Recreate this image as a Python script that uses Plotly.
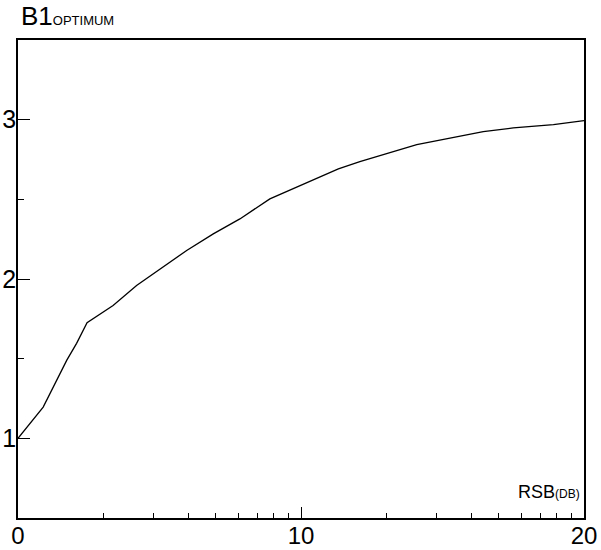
import math
import plotly.graph_objects as go

# ---- data ----
rsb_db = [0.0, 0.89, 1.72, 2.07, 2.44, 3.36, 4.19, 5.13, 5.96, 6.90, 7.84, 8.90,
          10.02, 11.32, 12.08, 14.09, 16.44, 17.50, 18.92, 20.0]
b1_optimum = [1.0, 1.196, 1.489, 1.596, 1.725, 1.834, 1.959, 2.074, 2.179, 2.283, 2.377, 2.503,
              2.592, 2.691, 2.737, 2.843, 2.925, 2.948, 2.969, 2.994]

x_major_ticks = [0, 10, 20]
x_major_labels = ["0", "10", "20"]
# minor ticks: 10*log10(k) dB within each decade
x_minor_ticks = [d + 10 * math.log10(k) for d in (0, 10) for k in range(2, 10)]
y_major_ticks = [1, 2, 3]
y_major_labels = ["1", "2", "3"]
y_minor_ticks = [0.5, 1.5, 2.5, 3.5]

FONT = "Liberation Sans, Arial, sans-serif"

fig = go.Figure()
fig.add_trace(go.Scatter(x=rsb_db, y=b1_optimum, mode="lines",
                         line=dict(color="black", width=1.3), showlegend=False,
                         hoverinfo="skip"))

W, H = 601, 550
PL, PR, PT, PB = 18, 584, 40, 518   # plot area in window pixels
L, R, T, B = PL, W - PR, PT, H - PB

fig.update_layout(
    width=W, height=H,
    margin=dict(l=L, r=R, t=T, b=B, pad=0, autoexpand=False),
    paper_bgcolor="white", plot_bgcolor="white",
    font=dict(family=FONT, color="black", size=24),
    xaxis=dict(range=[0, 20], showgrid=False, zeroline=False, automargin=False,
               showline=True, linecolor="black", linewidth=1.5, mirror=True,
               tickmode="array", tickvals=x_major_ticks, ticktext=x_major_labels,
               ticks="inside", ticklen=11, tickwidth=1.2, tickcolor="black",
               tickfont=dict(size=24, family=FONT), ticklabelstandoff=-5,
               minor=dict(tickmode="array", tickvals=x_minor_ticks, ticks="inside",
                          ticklen=5, tickwidth=1.2, tickcolor="black", showgrid=False)),
    yaxis=dict(range=[0.5, 3.5], showgrid=False, zeroline=False, automargin=False,
               showline=True, linecolor="black", linewidth=1.5, mirror=True,
               tickmode="array", tickvals=y_major_ticks, ticktext=y_major_labels,
               ticks="inside", ticklen=12, tickwidth=1.2, tickcolor="black",
               tickfont=dict(size=25, family=FONT), ticklabelstandoff=-5,
               minor=dict(tickmode="array", tickvals=y_minor_ticks, ticks="inside",
                          ticklen=6, tickwidth=1.2, tickcolor="black", showgrid=False)),
)


def px_x(p):
    return (p - PL) / (PR - PL)


def px_y(p):
    return (PB - p) / (PB - PT)


fig.add_annotation(
    text="B1<span style='font-size:13px'>OPTIMUM</span>",
    xref="paper", yref="paper", x=px_x(19), y=px_y(33),
    xanchor="left", yanchor="bottom", showarrow=False,
    font=dict(size=26, family=FONT, color="black"))

fig.add_annotation(
    text="RSB<span style='font-size:12px'>(DB)</span>",
    xref="paper", yref="paper", x=px_x(582), y=px_y(504),
    xanchor="right", yanchor="bottom", showarrow=False,
    font=dict(size=18, family=FONT, color="black"))

fig.write_html("out.html", config={"displayModeBar": False},
               post_script="document.body.style.margin='0';")
